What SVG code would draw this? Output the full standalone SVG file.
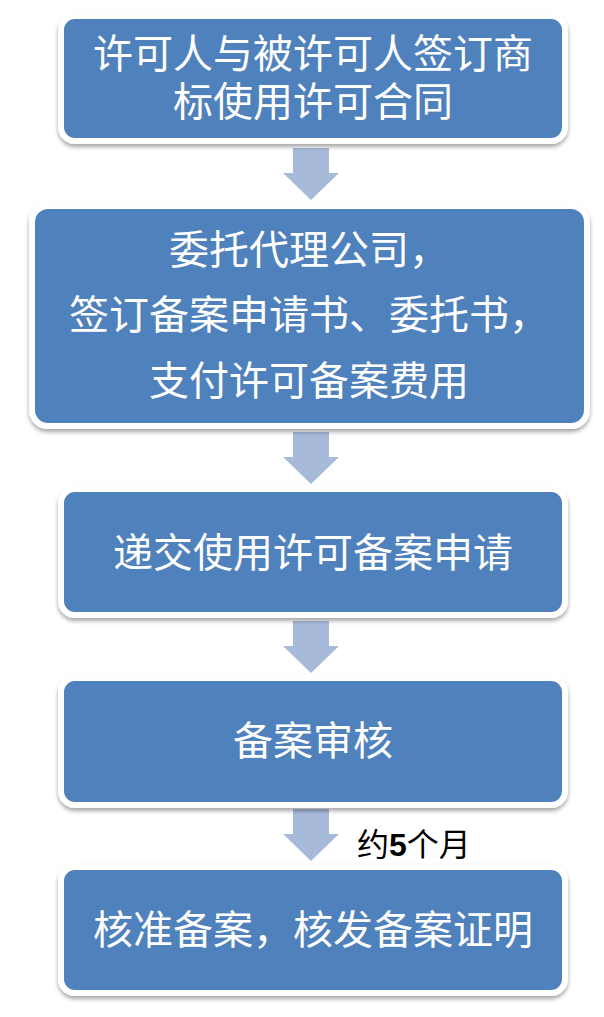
<svg xmlns="http://www.w3.org/2000/svg" width="604" height="1017" viewBox="0 0 604 1017">
  <defs>
    <style>
      .box { fill: #4F81BD; stroke: #FFFFFF; stroke-width: 6; filter: url(#shadow); }
      .t { font-family: "Noto Sans CJK SC", "Noto Sans", sans-serif; font-size: 40px; fill: #FFFFFF; text-anchor: middle; }
      .lbl { font-family: "Noto Sans CJK SC", "Noto Sans", sans-serif; font-size: 32px; fill: #000000; }
      .arrow { fill: #A7BADA; filter: url(#soft); }
    </style>
    <filter id="shadow" x="-5%" y="-10%" width="110%" height="130%">
      <feGaussianBlur in="SourceAlpha" stdDeviation="2"/>
      <feOffset dx="0" dy="3" result="b"/>
      <feComponentTransfer><feFuncA type="linear" slope="0.35"/></feComponentTransfer>
      <feMerge><feMergeNode/><feMergeNode in="SourceGraphic"/></feMerge>
    </filter>
    <filter id="soft" x="-20%" y="-20%" width="140%" height="140%">
      <feGaussianBlur stdDeviation="0.6"/>
    </filter>
    <path id="arr" d="M-18,0 H18 V25 H28 L0,52 L-28,25 H-18 Z"/>
  </defs>
  <rect width="604" height="1017" fill="#FFFFFF"/>

  <g id="connectors">
    <use href="#arr" class="arrow" transform="translate(311,148)"/>
    <use href="#arr" class="arrow" transform="translate(311,432)"/>
    <use href="#arr" class="arrow" transform="translate(311,621)"/>
    <use href="#arr" class="arrow" transform="translate(311,809)"/>
    <text class="lbl" x="357" y="856">约<tspan font-family="'Liberation Sans', sans-serif" font-weight="bold">5</tspan>个月</text>
  </g>

  <g id="node1">
    <rect class="box" x="61" y="16" width="504" height="125" rx="14"/>
    <text class="t"><tspan x="313" y="68">许可人与被许可人签订商</tspan><tspan x="313" y="116">标使用许可合同</tspan></text>
  </g>

  <g id="node2">
    <rect class="box" x="32" y="206" width="555" height="220" rx="16"/>
    <text class="t"><tspan x="309" y="264">委托代理公司，</tspan><tspan x="309" y="329">签订备案申请书、委托书，</tspan><tspan x="309" y="395">支付许可备案费用</tspan></text>
  </g>

  <g id="node3">
    <rect class="box" x="61" y="489" width="504" height="126" rx="14"/>
    <text class="t" x="313" y="567">递交使用许可备案申请</text>
  </g>

  <g id="node4">
    <rect class="box" x="61" y="678" width="504" height="127" rx="14"/>
    <text class="t" x="313" y="755">备案审核</text>
  </g>

  <g id="node5">
    <rect class="box" x="61" y="867" width="504" height="126" rx="14"/>
    <text class="t" x="313" y="944">核准备案，核发备案证明</text>
  </g>
</svg>
